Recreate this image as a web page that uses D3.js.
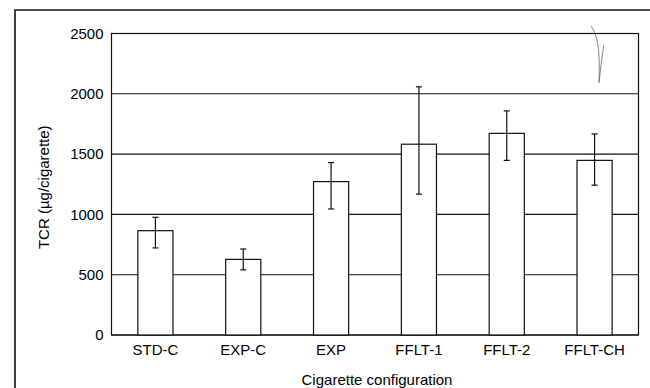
<!DOCTYPE html>
<html>
<head>
<meta charset="utf-8">
<script src="https://cdn.jsdelivr.net/npm/d3@7"></script>
<style>
  body { margin: 0; background: #fff; }
  text { font-family: "Liberation Sans", Arial, Helvetica, sans-serif; fill: #000; }
</style>
</head>
<body>
<div id="chart"></div>
<script>
// data
const configs = ['STD-C', 'EXP-C', 'EXP', 'FFLT-1', 'FFLT-2', 'FFLT-CH'];
const tcrMean = [865, 627, 1272, 1582, 1672, 1448];
const errLow  = [722, 540, 1045, 1168, 1448, 1242];
const errHigh = [976, 713, 1430, 2058, 1858, 1667];
const yTicks = [0, 500, 1000, 1500, 2000, 2500];

const width = 650;
const height = 388;
const margin = { top: 33.5, right: 11.5, bottom: 53, left: 111.5 };

const svg = d3.select('#chart')
  .append('svg')
  .attr('width', width)
  .attr('height', height);

// outer frame (only top and left edges show in the scan)
svg.append('path')
  .attr('d', `M15,${height} L15,10 L${width},10`)
  .attr('fill', 'none')
  .attr('stroke', '#111')
  .attr('stroke-width', 1.6);

const x = d3.scaleBand()
  .domain(configs)
  .range([margin.left, width - margin.right])
  .paddingInner(0.6)
  .paddingOuter(0.3);

const y = d3.scaleLinear()
  .domain([0, 2500])
  .range([height - margin.bottom, margin.top]);

// horizontal grid lines
svg.append('g')
  .selectAll('line')
  .data(yTicks)
  .enter()
  .append('line')
  .attr('x1', margin.left)
  .attr('x2', width - margin.right)
  .attr('y1', d => y(d))
  .attr('y2', d => y(d))
  .attr('stroke', '#111')
  .attr('stroke-width', 1.1);

// plot box
svg.append('rect')
  .attr('x', margin.left)
  .attr('y', margin.top)
  .attr('width', width - margin.right - margin.left)
  .attr('height', height - margin.bottom - margin.top)
  .attr('fill', 'none')
  .attr('stroke', '#111')
  .attr('stroke-width', 1.2);

// bars (white, hide the grid behind them)
svg.append('g')
  .selectAll('rect')
  .data(configs)
  .enter()
  .append('rect')
  .attr('x', d => x(d))
  .attr('y', (d, i) => y(tcrMean[i]))
  .attr('width', x.bandwidth())
  .attr('height', (d, i) => y(0) - y(tcrMean[i]))
  .attr('fill', '#fff')
  .attr('stroke', '#111')
  .attr('stroke-width', 1.2);

// error bars
const err = svg.append('g')
  .selectAll('g')
  .data(configs)
  .enter()
  .append('g')
  .attr('stroke', '#111')
  .attr('stroke-width', 1.2);

const cx = d => x(d) + x.bandwidth() / 2;
const cap = 3;

err.append('line')
  .attr('x1', cx).attr('x2', cx)
  .attr('y1', (d, i) => y(errLow[i]))
  .attr('y2', (d, i) => y(errHigh[i]));

err.append('line')
  .attr('x1', d => cx(d) - cap).attr('x2', d => cx(d) + cap)
  .attr('y1', (d, i) => y(errHigh[i]))
  .attr('y2', (d, i) => y(errHigh[i]));

err.append('line')
  .attr('x1', d => cx(d) - cap).attr('x2', d => cx(d) + cap)
  .attr('y1', (d, i) => y(errLow[i]))
  .attr('y2', (d, i) => y(errLow[i]));

// y axis labels
const yAxis = svg.append('g')
  .attr('transform', `translate(${margin.left},0)`)
  .call(d3.axisLeft(y).tickValues(yTicks).tickFormat(d3.format('d')).tickSize(0).tickPadding(8));
yAxis.select('.domain').remove();
yAxis.attr('font-size', 15).attr('font-family', null);
yAxis.selectAll('text').attr('fill', '#000');

// x axis labels
const xAxis = svg.append('g')
  .attr('transform', `translate(0,${y(0)})`)
  .call(d3.axisBottom(x).tickSize(0).tickPadding(9));
xAxis.select('.domain').remove();
xAxis.attr('font-size', 15).attr('font-family', null);
xAxis.selectAll('text').attr('fill', '#000');

// axis titles
svg.append('text')
  .attr('x', (margin.left + width - margin.right) / 2 + 2)
  .attr('y', 385)
  .attr('text-anchor', 'middle')
  .attr('font-size', 15)
  .text('Cigarette configuration');

svg.append('text')
  .attr('transform', `translate(49,${(y(0) + y(2500)) / 2 + 3}) rotate(-90)`)
  .attr('text-anchor', 'middle')
  .attr('font-size', 15)
  .text('TCR (µg/cigarette)');

// stray pen mark in the top right of the scan
svg.append('path')
  .attr('d', 'M591,26 C598,36 600,50 599,82 M599,83 C601,65 602,55 604,45')
  .attr('fill', 'none')
  .attr('stroke', '#666')
  .attr('stroke-width', 0.8);
</script>
</body>
</html>
